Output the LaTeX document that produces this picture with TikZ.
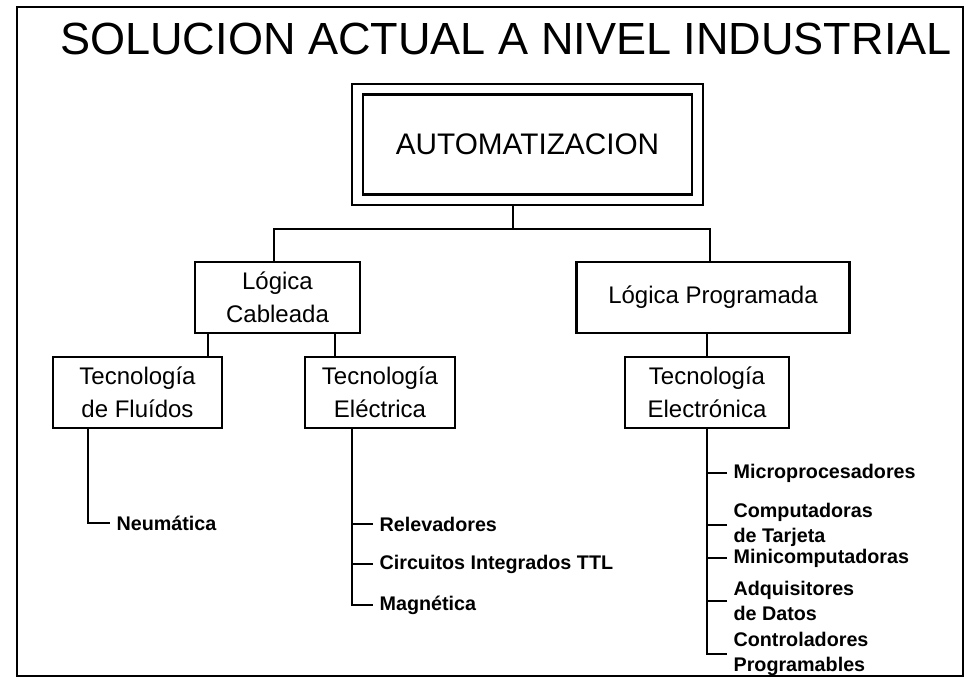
\documentclass[tikz,border=0pt]{standalone}
\usepackage{fontspec}
\setmainfont{Liberation Sans}
\usetikzlibrary{positioning}

\begin{document}
\begin{tikzpicture}[x=0.75pt, y=-0.75pt, line width=1.9pt,
                      box/.style = {draw, align=center, inner sep=0pt,
                        minimum height=53pt,
                        font=\fontsize{18}{24.5}\selectfont},
                      leaf/.style = {anchor=west, align=left, inner sep=4pt,
                        font=\fontsize{14.8}{19}\selectfont\bfseries}]
  \useasboundingbox (0,0) rectangle (972,684);
  \draw (17,7) rectangle (963,676);

  \node[font=\fontsize{33.8}{40}\selectfont] (title) at (506,39)
    {SOLUCION ACTUAL A NIVEL INDUSTRIAL};

  % caja doble
  \node[draw, minimum width=263pt, minimum height=91pt,
        font=\fontsize{22.3}{26}\selectfont] (auto) at (527.5,144.5) {AUTOMATIZACION};
  \node[draw, minimum width=247pt, minimum height=75pt] (autoin) at (auto) {};

  \node[box, minimum width=124pt] (cab) at (277.5,297.5) {Lógica\\Cableada};
  \node[box, minimum width=205pt] (prog) at (713,297.5) {Lógica Programada};

  \node[box, minimum width=127pt] (flu) at (137.5,392.5) {Tecnología\\de Fluídos};
  \node[box, minimum width=112.5pt] (ele) at (380,392.5) {Tecnología\\Eléctrica};
  \node[box, minimum width=123pt] (eln) at (707,392.5) {Tecnología\\Electrónica};

  \node[leaf] (neu) at (110,523) {Neumática};

  \node[leaf] (rel) at (373,524) {Relevadores};
  \node[leaf] (cir) at (373,564) {Circuitos Integrados TTL};
  \node[leaf] (mag) at (373,605) {Magnética};

  \node[leaf] (mic) at (727,473) {Microprocesadores};
  \node[leaf] (com) at (727,525) {Computadoras\\de Tarjeta};
  \node[leaf] (min) at (727,558) {Minicomputadoras};
  \node[leaf] (adq) at (727,601) {Adquisitores\\de Datos};
  \node[leaf] (con) at (727,654) {Controladores\\Programables};

  % conexiones
  \coordinate (bus) at ([xshift=-10.9pt]auto.south);
  \coordinate (busL) at ([xshift=-2.6pt]cab.north);
  \coordinate (busR) at ([xshift=-2.3pt]prog.north);
  \draw (bus) -- ++(0,23);
  \draw (busL) |- ([yshift=-17pt]bus) -| (busR);

  \coordinate (cabL) at ([xshift=-52pt]cab.south);
  \coordinate (cabR) at ([xshift=-33.75pt]ele.north);
  \draw (cabL) -- (cabL |- flu.north);
  \draw (cabR) -- (cabR |- cab.south);
  \draw (eln.north) -- (eln.north |- prog.south);

  \coordinate (fluB) at ([xshift=-37pt]flu.south);
  \draw (fluB) |- (neu.west);

  \coordinate (eleB) at ([xshift=-21pt]ele.south);
  \draw (eleB) |- (mag.west);
  \draw (rel.west) -- (rel.west -| eleB);
  \draw (cir.west) -- (cir.west -| eleB);

  \draw (eln.south) |- (con.west);
  \draw (mic.west) -- (mic.west -| eln.south);
  \draw (com.west) -- (com.west -| eln.south);
  \draw (min.west) -- (min.west -| eln.south);
  \draw (adq.west) -- (adq.west -| eln.south);
\end{tikzpicture}
\end{document}
